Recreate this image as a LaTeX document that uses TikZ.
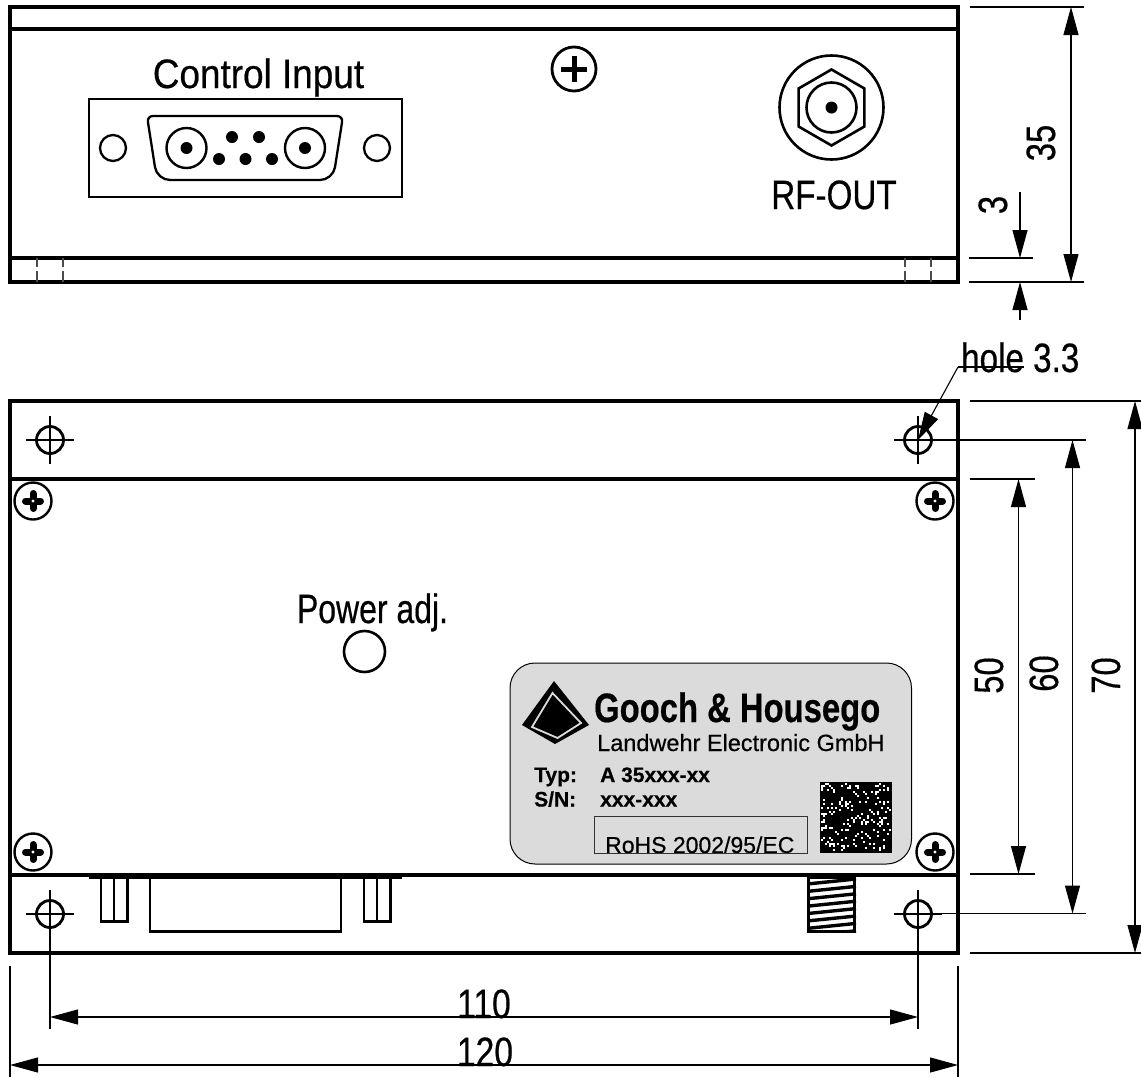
\documentclass[tikz,border=0pt]{standalone}
\usepackage{fontspec}
\setmainfont[FakeBold=0.5]{Liberation Sans}
\usetikzlibrary{arrows.meta}

\definecolor{platefill}{gray}{0.86}

\tikzset{
	heavy/.style={line width=3.8pt},
	part/.style={line width=2.3pt},
	fine/.style={line width=1.2pt},
	dimline/.style={line width=1.1pt, >={Triangle[length=28pt,width=15pt]}},
	biglabel/.style={anchor=base, inner sep=0pt, transform shape, font=\fontsize{41}{41}\selectfont},
	platelabel/.style={anchor=base west, inner sep=0pt, font=\fontsize{21}{21}\selectfont\bfseries},
}

\newcommand{\mounthole}[1]{

\begin{scope}[shift={#1}]
	\draw[fine] (-24,0) -- (24,0);
	\draw[fine] (0,-24) -- (0,24);
	\draw[line width=2.8pt] (0,0) circle (13.5);
\end{scope}

}

\newcommand{\screwhead}[1]{

\begin{scope}[shift={#1}]
	\draw[line width=2.4pt] (0,0) circle (18.5);
	\draw[line width=7pt, line cap=round] (-7.5,0) -- (7.5,0);
	\draw[line width=7pt, line cap=round] (0,-7.5) -- (0,7.5);
	\fill[white] (0,0) circle (1.6);
\end{scope}

}

\begin{document}
\begin{tikzpicture}[x=1pt, y=-1pt]

	\useasboundingbox (0,0) rectangle (1141,1077);

	% front panel
	\draw[heavy] (10,7) rectangle (958,282);
	\draw[heavy] (10,29) -- (958,29);
	\draw[heavy] (10,258) -- (958,258);
	\foreach \x in {37, 63, 905, 931}
		\draw[fine, black!70, dash pattern=on 9pt off 4pt on 12pt off 0pt] (\x,258) -- (\x,282);
		; %end for \x

	% control connector
	\draw[part] (89,99) rectangle (402,197);
	\foreach \x in {113, 377}
		\draw[part] (\x,148) circle (13);
		; %end for \x
	\draw[part, rounded corners=6pt] (147,116) -- (343,116) [rounded corners=13pt] -- (333,180) -- (157,180) [rounded corners=6pt] -- cycle;
	\foreach \x in {186.5, 305}{
		\draw[line width=2.4pt] (\x,148) circle (20);
		\fill (\x,148) circle (6);
	} %end for \x
	\foreach \x in {232, 259}
		\fill (\x,137) circle (6);
		; %end for \x
	\foreach \x in {219, 245.5, 272}
		\fill (\x,159) circle (6);
		; %end for \x
	\node[biglabel, xscale=.90] (controlinput) at (258.5,88) {Control Input};

	% ground screw
	\draw[line width=2.8pt] (574,69) circle (22);
	\draw[line width=5pt] (561,69) -- (587,69);
	\draw[line width=5pt] (574,56) -- (574,82);

	% rf output
	\begin{scope}[shift={(831.5,107.5)}]
		\draw[line width=2.6pt] (0,0) circle (52);
		\draw[line width=2.6pt] (30:38) -- (90:38) -- (150:38) -- (210:38) -- (270:38) -- (330:38) -- cycle;
		\draw[line width=2.6pt] (0,0) circle (25);
		\fill (0,0) circle (6);
	\end{scope}
	\node[biglabel, xscale=.81] (rfout) at (834,209) {RF-OUT};

	% dimensions of the front panel
	\draw[fine] (970,7) -- (1084,7);
	\draw[fine] (969,258) -- (1033,258);
	\draw[fine] (969,282) -- (1084,282);
	\draw[dimline, <->] (1071,7) -- (1071,282);
	\draw[dimline, ->] (1020,192) -- (1020,258);
	\draw[dimline, ->] (1020,320) -- (1020,282);
	\node[biglabel, rotate=90, xscale=.80] (dimheight) at (1055,143) {35};
	\node[biglabel, rotate=90, xscale=.80] (dimbase) at (1007,205) {3};

	% base plate
	\draw[heavy] (10,401) rectangle (958,953);
	\draw[heavy] (10,479) -- (958,479);
	\draw[heavy] (10,875) -- (958,875);
	\draw[line width=3.4pt] (89,877) -- (402,877);

	% parts below the base plate
	\foreach \x in {101, 364}{
		\draw[part] (\x,875) -- (\x,921.5) -- (\x+26.5,921.5) -- (\x+26.5,875);
		\draw[part] (\x+13,875) -- (\x+13,921.5);
	} %end for \x
	\draw[part] (150,875) -- (150,931.5) -- (341,931.5) -- (341,875);

	\begin{scope}
		\clip (807,875) rectangle (856,932);
		\foreach \y in {0, ..., 7}
			\draw[line width=3.4pt] (807,884+\y*7.4) -- (856,879+\y*7.4);
			; %end for \y
	\end{scope}
	\draw[line width=3pt] (808.5,877) rectangle (854.5,931);

	% mounting holes and screws
	\foreach \y in {440, 914}
		\foreach \x in {50, 918}
			\mounthole{(\x,\y)}
			; %end for \x
		; %end for \y
	\foreach \y in {501, 852}
		\foreach \x in {33, 935}
			\screwhead{(\x,\y)}
			; %end for \x
		; %end for \y

	% power adjust
	\draw[line width=2.6pt] (364.5,651.5) circle (20.5);
	\node[biglabel, xscale=.78] (poweradj) at (372.5,623) {Power adj.};

	% type plate
	\draw[line width=1pt, fill=platefill, rounded corners=25pt] (510,663) rectangle (911.5,864);
	\fill (554,681) -- (589,725) -- (555,744) -- (522,725) -- cycle;
	\draw[line width=1.8pt, platefill] (552.5,693) -- (581,723) -- (557.5,738) -- (532,727) -- cycle;
	\node[biglabel, anchor=base west, xscale=.80] (maker) at (594,722) {\bfseries Gooch \& Housego};
	\node[platelabel, font=\fontsize{23.5}{23.5}\selectfont] (makersub) at (597,751) {Landwehr Electronic GmbH};
	\node[platelabel] (typlabel) at (534,782) {Typ:};
	\node[platelabel] (typvalue) at (600,782) {A 35xxx-xx};
	\node[platelabel] (snlabel) at (534,806.5) {S/N:};
	\node[platelabel] (snvalue) at (600,806.5) {xxx-xxx};
	\begin{scope}
		\clip (590,810) rectangle (810,853);
		\node[platelabel, font=\fontsize{23}{23}\selectfont] (rohs) at (605,853) {RoHS 2002/95/EC};
	\end{scope}
	\draw[line width=1pt, black!80] (594,816) rectangle (807,853);

	% matrix code
	\fill (820,782) rectangle (892,853);
	\pgfmathsetseed{35}
	\foreach \i in {1, ..., 190}{
		\pgfmathsetmacro{\cx}{821+int(rnd*35)*2}
		\pgfmathsetmacro{\cy}{783+int(rnd*34)*2}
		\fill[white] (\cx,\cy) rectangle ++(1.8,1.8);
	} %end for \i

	% dimensions of the base plate
	\draw[fine] (970,401) -- (1141,401);
	\draw[fine] (918,440) -- (1086,440);
	\draw[fine] (970,479) -- (1035,479);
	\draw[fine] (970,874) -- (1035,874);
	\draw[fine] (918,913.5) -- (1086,913.5);
	\draw[fine] (970,953) -- (1141,953);
	\draw[dimline, <->] (1135,401) -- (1135,953);
	\draw[dimline, <->] (1072.5,440) -- (1072.5,913.5);
	\draw[dimline, <->] (1018.5,479) -- (1018.5,874);
	\node[biglabel, rotate=90, xscale=.80] (dimfifty) at (1003,675.5) {50};
	\node[biglabel, rotate=90, xscale=.80] (dimsixty) at (1058,673.5) {60};
	\node[biglabel, rotate=90, xscale=.80] (dimseventy) at (1120,675.5) {70};

	\draw[fine] (50,914) -- (50,1029);
	\draw[fine] (918,914) -- (918,1029);
	\draw[fine] (10,966) -- (10,1077);
	\draw[fine] (958,966) -- (958,1077);
	\draw[dimline, <->] (50,1017) -- (918,1017);
	\draw[dimline, <->] (10,1065) -- (958,1065);
	\node[biglabel, xscale=.82] (dimpitch) at (484,1018) {110};
	\node[biglabel, xscale=.82] (dimwidth) at (485,1066) {120};

	% hole label
	\node[biglabel, anchor=base west, xscale=.81] (holelabel) at (961,372) {hole 3.3};
	\coordinate (leader) at (958,367);
	\coordinate (holecentre) at (918,440);
	\draw[fine] (leader) -- (1024,367);
	\draw[dimline, ->] (leader) -- (holecentre);

\end{tikzpicture}
\end{document}
